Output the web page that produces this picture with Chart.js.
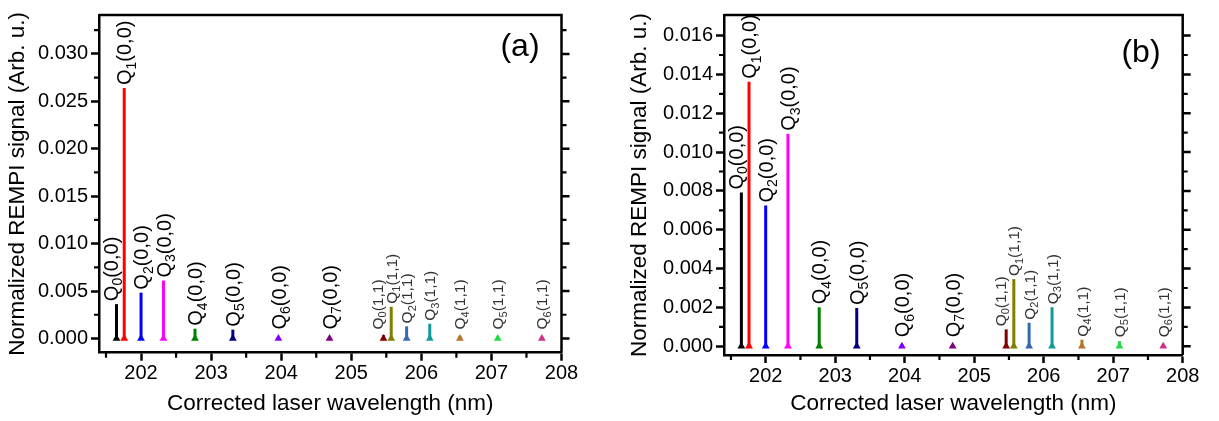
<!DOCTYPE html>
<html><head><meta charset="utf-8">
<script src="https://cdn.jsdelivr.net/npm/chart.js@4.4.1/dist/chart.umd.min.js"></script>
<style>
html,body{margin:0;padding:0;background:#fff;width:1219px;height:421px;overflow:hidden}
canvas{position:absolute;top:0}
#ca{left:0}
#cb{left:609px}
</style></head><body>
<canvas id="ca" width="609" height="421"></canvas>
<canvas id="cb" width="610" height="421"></canvas>
<script>
// ---------------- data ----------------
const wavelengths = [201.65, 201.76, 202.00, 202.32, 202.77, 203.31, 203.96, 204.69, 205.46, 205.57, 205.79, 206.12, 206.55, 207.09, 207.72];
const branchJ     = ['0','1','2','3','4','5','6','7','0','1','2','3','4','5','6'];
const bands       = ['(0,0)','(0,0)','(0,0)','(0,0)','(0,0)','(0,0)','(0,0)','(0,0)','(1,1)','(1,1)','(1,1)','(1,1)','(1,1)','(1,1)','(1,1)'];
const signalA     = [0.00362, 0.02640, 0.00483, 0.00610, 0.00103, 0.00093, 0.00010, 0.00008, 0.00035, 0.00334, 0.00127, 0.00155, 0.00027, 0.00020, 0.00010];
const signalB     = [0.00792, 0.01362, 0.00725, 0.01094, 0.00201, 0.00197, 0.00010, 0.00008, 0.00087, 0.00346, 0.00121, 0.00201, 0.00034, 0.00026, 0.00008];
const peakColors  = ['#000000','#ff0000','#0000ff','#ff00ff','#008000','#000080','#8000ff','#800080','#800000','#808000','#3468b0','#159a9a','#b8742c','#22d845','#d0308c'];
const xTicks      = [202, 203, 204, 205, 206, 207, 208];
const xMinor      = [201.5, 202.5, 203.5, 204.5, 205.5, 206.5, 207.5];
const yTicksA     = [0, 0.005, 0.010, 0.015, 0.020, 0.025, 0.030];
const yMinorA     = [0.0025, 0.0075, 0.0125, 0.0175, 0.0225, 0.0275, 0.0325];
const yTicksB     = [0, 0.002, 0.004, 0.006, 0.008, 0.010, 0.012, 0.014, 0.016];
const yMinorB     = [0.001, 0.003, 0.005, 0.007, 0.009, 0.011, 0.013, 0.015];

const FONT = "'Liberation Sans', Arial, sans-serif";

function makeDatasets(signal){
  return wavelengths.map((w, i) => ({
    type: 'line',
    data: [{x: w, y: 0}, {x: w, y: signal[i]}],
    borderColor: peakColors[i],
    backgroundColor: peakColors[i],
    borderWidth: 3,
    borderCapStyle: 'butt',
    pointRadius: [4.5, 0],
    pointStyle: 'triangle',
    pointBorderWidth: 0,
    pointBackgroundColor: peakColors[i],
    clip: false,
    tension: 0
  }));
}

const framePlugin = {
  id: 'frame',
  afterDraw(chart, args, opts){
    const ctx = chart.ctx, a = chart.chartArea;
    const xs = chart.scales.x, ys = chart.scales.y;
    ctx.save();
    ctx.strokeStyle = '#000';
    ctx.lineWidth = 2.5;
    ctx.beginPath();
    ctx.moveTo(a.left, a.top); ctx.lineTo(a.right, a.top); ctx.lineTo(a.right, a.bottom);
    ctx.stroke();
    // minor ticks
    ctx.lineWidth = 2.2;
    ctx.beginPath();
    xMinor.forEach(v => { const p = xs.getPixelForValue(v); if (p >= a.left-1 && p <= a.right+1){ ctx.moveTo(p, a.bottom); ctx.lineTo(p, a.bottom + 5); }});
    opts.yMinor.forEach(v => { const p = ys.getPixelForValue(v); if (p >= a.top && p <= a.bottom){ ctx.moveTo(a.left, p); ctx.lineTo(a.left - 5, p); ctx.moveTo(a.right, p); ctx.lineTo(a.right + 5, p); }});
    ctx.stroke();
    // right-side major ticks
    ctx.lineWidth = 2.5;
    ctx.beginPath();
    opts.yMajor.forEach(v => { const p = ys.getPixelForValue(v); ctx.moveTo(a.right, p); ctx.lineTo(a.right + 8, p); });
    ctx.stroke();
    // panel letter
    ctx.fillStyle = '#000';
    ctx.font = '32px ' + FONT;
    ctx.textAlign = 'center';
    ctx.textBaseline = 'middle';
    ctx.fillText(opts.letter, opts.letterX, opts.letterY);
    // peak labels
    const signal = opts.signal;
    const base = ys.getPixelForValue(0);
    wavelengths.forEach((w, i) => {
      const big = bands[i] === '(0,0)';
      const fs = big ? 20 : 15.5;
      let px = xs.getPixelForValue(w);
      if (i + 1 < wavelengths.length && xs.getPixelForValue(wavelengths[i + 1]) - px < 10) px -= 6;
      const top = Math.min(ys.getPixelForValue(signal[i]), base - 6) - 3;
      ctx.save();
      ctx.translate(px, top);
      ctx.rotate(-Math.PI / 2);
      ctx.fillStyle = big ? '#000' : '#333';
      ctx.textAlign = 'left';
      ctx.textBaseline = 'alphabetic';
      const bl = 0.36 * fs;
      ctx.font = fs + 'px ' + FONT;
      ctx.fillText('Q', 0, bl);
      let xo = ctx.measureText('Q').width;
      ctx.font = Math.round(fs * 0.7) + 'px ' + FONT;
      ctx.fillText(branchJ[i], xo, bl + 0.22 * fs);
      xo += ctx.measureText(branchJ[i]).width;
      ctx.font = fs + 'px ' + FONT;
      ctx.fillText(bands[i], xo, bl);
      ctx.restore();
    });
    ctx.restore();
  }
};

function makeChart(id, signal, yMin, yMax, yMajor, yMinor, geom, letter){
  return new Chart(document.getElementById(id), {
    data: { datasets: makeDatasets(signal) },
    options: {
      responsive: false,
      animation: false,
      events: [],
      layout: { autoPadding: false, padding: { left: 0, top: geom.top, right: geom.right, bottom: 0 } },
      plugins: {
        legend: { display: false },
        tooltip: { enabled: false },
        frame: { yMajor, yMinor, signal, letter, letterX: geom.letterX, letterY: geom.letterY }
      },
      scales: {
        x: {
          type: 'linear', min: 201.4, max: 208,
          afterBuildTicks: s => { s.ticks = xTicks.map(v => ({ value: v })); },
          afterFit: s => { s.height = geom.xh; },
          ticks: { color: '#000', font: { family: FONT, size: 20 }, padding: 1, maxRotation: 0, autoSkip: false, callback: v => String(v) },
          grid: { display: true, drawOnChartArea: false, drawTicks: true, tickLength: 8, tickWidth: 2.5, tickColor: '#000' },
          border: { display: true, width: 2.5, color: '#000' },
          title: { display: true, text: 'Corrected laser wavelength (nm)', color: '#000', font: { family: FONT, size: 22.5 }, padding: { top: 0, bottom: geom.xtp } }
        },
        y: {
          type: 'linear', min: yMin, max: yMax,
          afterBuildTicks: s => { s.ticks = yMajor.map(v => ({ value: v })); },
          afterFit: s => { s.width = geom.yw; },
          ticks: { color: '#000', font: { family: FONT, size: 20 }, padding: 3, autoSkip: false, callback: v => Number(v).toFixed(3) },
          grid: { display: true, drawOnChartArea: false, drawTicks: true, tickLength: 8, tickWidth: 2.5, tickColor: '#000' },
          border: { display: true, width: 2.5, color: '#000' },
          title: { display: true, text: 'Normalized REMPI signal (Arb. u.)', color: '#000', font: { family: FONT, size: 22.5 }, padding: { top: geom.ytp, bottom: 0 } }
        }
      }
    },
    plugins: [framePlugin]
  });
}

makeChart('ca', signalA, -0.0015, 0.0341, yTicksA, yMinorA,
  { top: 8.3, right: 47.5, xh: 68.3, yw: 99, xtp: 4, ytp: 4, letterX: 520, letterY: 47 }, '(a)');
makeChart('cb', signalB, -0.00045, 0.01706, yTicksB, yMinorB,
  { top: 13, right: 36.3, xh: 66, yw: 115, xtp: 4, ytp: 17, letterX: 532, letterY: 53 }, '(b)');
</script>
</body></html>
